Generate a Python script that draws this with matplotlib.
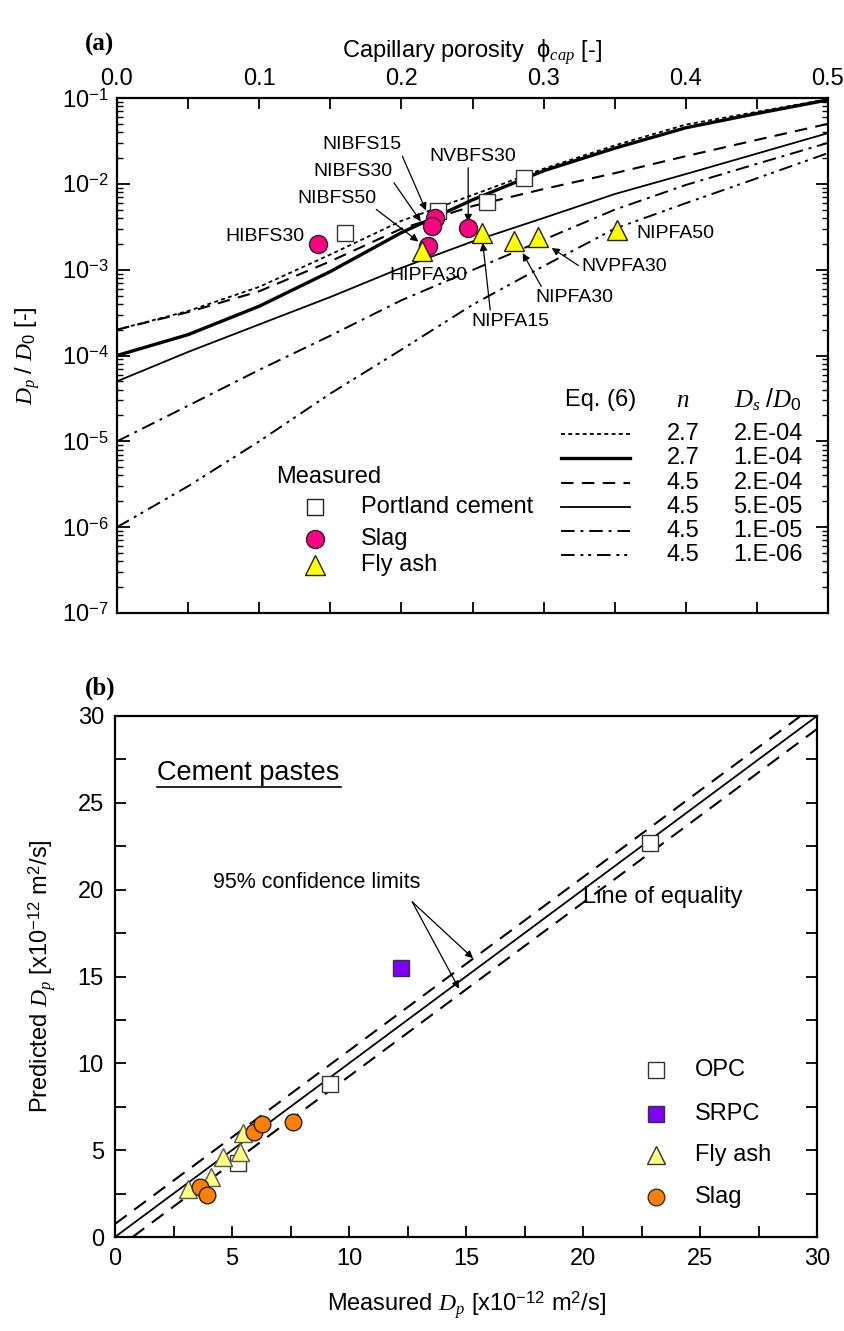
import matplotlib
matplotlib.use("Agg")
import matplotlib.pyplot as plt
import numpy as np
from matplotlib.lines import Line2D
from matplotlib.ticker import LogLocator, MultipleLocator, NullFormatter

plt.rcParams['font.family'] = ['Liberation Sans', 'DejaVu Sans']
plt.rcParams['mathtext.fontset'] = 'custom'
plt.rcParams['mathtext.rm'] = 'Liberation Sans'
plt.rcParams['mathtext.sf'] = 'Liberation Sans'
plt.rcParams['mathtext.it'] = 'Liberation Serif:italic'
plt.rcParams['mathtext.bf'] = 'Liberation Sans:bold'

# ---------------- data: panel (a) ----------------
phi_grid = [0.0, 0.05, 0.10, 0.15, 0.20, 0.25, 0.30, 0.35, 0.40, 0.45, 0.50]
eq6_n27_2e4 = [2.0e-4, 3.3e-4, 6.3e-4, 1.5e-3, 3.7e-3, 7.4e-3, 1.5e-2, 2.8e-2, 4.9e-2, 6.9e-2, 9.7e-2]
eq6_n27_1e4 = [1.0e-4, 1.75e-4, 3.75e-4, 9.5e-4, 2.7e-3, 6.5e-3, 1.42e-2, 2.6e-2, 4.5e-2, 6.6e-2, 9.5e-2]
eq6_n45_2e4 = [2.0e-4, 3.2e-4, 5.6e-4, 1.25e-3, 3.0e-3, 5.5e-3, 8.7e-3, 1.33e-2, 2.1e-2, 3.25e-2, 5.0e-2]
eq6_n45_5e5 = [5.0e-5, 1.1e-4, 2.3e-4, 4.8e-4, 1.05e-3, 2.13e-3, 4.0e-3, 7.6e-3, 1.3e-2, 2.25e-2, 3.9e-2]
eq6_n45_1e5 = [1.0e-5, 2.6e-5, 6.8e-5, 1.7e-4, 4.4e-4, 9.9e-4, 2.23e-3, 5.0e-3, 9.7e-3, 1.71e-2, 3.0e-2]
eq6_n45_1e6 = [1.0e-6, 3.0e-6, 1.0e-5, 3.6e-5, 1.17e-4, 3.9e-4, 1.1e-3, 3.0e-3, 5.95e-3, 1.16e-2, 2.28e-2]

eq6_n_labels = ['2.7', '2.7', '4.5', '4.5', '4.5', '4.5']
eq6_ds_labels = ['2.E-04', '1.E-04', '2.E-04', '5.E-05', '1.E-05', '1.E-06']

pc_phi = [0.1606, 0.226, 0.2604, 0.2862]
pc_D = [2.67e-3, 4.77e-3, 6.1e-3, 1.16e-2]

slag_names = ['HIBFS30', 'NIBFS15', 'NIBFS30', 'NIBFS50', 'NVBFS30']
slag_phi = [0.1411, 0.2236, 0.2213, 0.2190, 0.2470]
slag_D = [1.99e-3, 4.0e-3, 3.25e-3, 1.87e-3, 3.05e-3]

fa_names = ['HIPFA30', 'NIPFA15', 'NIPFA30', 'NVPFA30', 'NIPFA50']
fa_phi = [0.2143, 0.2565, 0.2790, 0.2960, 0.3514]
fa_D = [1.63e-3, 2.7e-3, 2.13e-3, 2.4e-3, 2.9e-3]

# ---------------- data: panel (b) ----------------
opc_meas = [22.87, 9.19, 5.27]
opc_pred = [22.66, 8.83, 4.24]
srpc_meas = [12.21]
srpc_pred = [15.5]
fa_meas = [3.13, 4.10, 4.60, 5.34, 5.48]
fa_pred = [2.74, 3.47, 4.58, 4.90, 5.96]
slag_meas = [3.63, 3.92, 5.94, 6.27, 7.62]
slag_pred = [2.86, 2.41, 6.05, 6.48, 6.63]
equality_x = [0, 30]
equality_y = [0, 30]
upper_x = [0, 29.3]
upper_y = [0.75, 30]
lower_x = [0.75, 30]
lower_y = [0, 29.25]

FS = 17
fig = plt.figure(figsize=(8.45, 13.31), dpi=100)

# ================= panel (a) =================
ax = fig.add_axes([117/845, 1-613/1331, 711/845, 515/1331])
styles = [
    dict(color='k', lw=1.3, dashes=(2.2, 1.8)),
    dict(color='k', lw=2.4, linestyle='-'),
    dict(color='k', lw=1.5, dashes=(6, 4)),
    dict(color='k', lw=1.3, linestyle='-'),
    dict(color='k', lw=1.4, dashes=(7, 3, 1.5, 3)),
    dict(color='k', lw=1.4, dashes=(7, 3, 1.5, 2.5, 1.5, 3)),
]
curves = [eq6_n27_2e4, eq6_n27_1e4, eq6_n45_2e4, eq6_n45_5e5, eq6_n45_1e5, eq6_n45_1e6]
for c, st in zip(curves, styles):
    ax.plot(phi_grid, c, **st)

ax.plot(pc_phi, pc_D, 's', ms=12, mfc='white', mec='#333333', mew=1.0, zorder=5)
ax.plot(slag_phi, slag_D, 'o', ms=13, mfc='#FF0080', mec='#222222', mew=1.0, zorder=6)
ax.plot(fa_phi, fa_D, '^', ms=14, mfc='#FFFF00', mec='#222222', mew=1.0, zorder=7)

ax.set_yscale('log')
ax.set_xlim(0, 0.5)
ax.set_ylim(1e-7, 1e-1)
ax.xaxis.set_minor_locator(MultipleLocator(0.05))
ax.set_xticks([0, 0.1, 0.2, 0.3, 0.4, 0.5])
ax.set_xticklabels(['0.0', '0.1', '0.2', '0.3', '0.4', '0.5'])
ax.yaxis.set_minor_locator(LogLocator(base=10, subs=np.arange(2, 10), numticks=20))
ax.yaxis.set_minor_formatter(NullFormatter())
ax.set_yticks([1e-7, 1e-6, 1e-5, 1e-4, 1e-3, 1e-2, 1e-1])
ax.set_yticklabels([r'$10^{-%d}$' % k for k in [7, 6, 5, 4, 3, 2, 1]])
ax.tick_params(axis='x', which='both', direction='in', top=True, bottom=True,
               labeltop=True, labelbottom=False, length=8, width=1.3, labelsize=FS, pad=6)
ax.tick_params(axis='y', which='major', direction='in', left=True, right=True,
               length=9, width=1.3, labelsize=FS, pad=6)
ax.tick_params(axis='y', which='minor', direction='in', left=True, right=True,
               length=4.5, width=1.0)
for s in ax.spines.values():
    s.set_linewidth(1.6)
ax.xaxis.set_label_position('top')
ax.set_xlabel(r'Capillary porosity  $\mathrm{\phi}_{cap}$ [-]', fontsize=FS, labelpad=7)
ax.set_ylabel(r'$D_p\ /\ D_0$ [-]', fontsize=FS, labelpad=14)

afs = 14
ap = dict(arrowstyle='-|>', color='k', lw=0.9, mutation_scale=11, shrinkA=0, shrinkB=0)
ax.text(0.132, 2.45e-3, 'HIBFS30', fontsize=afs, ha='right', va='center')
ax.annotate('NIBFS15', xy=(0.2173, 4.9e-3), xytext=(0.172, 2.84e-2), fontsize=afs,
            ha='center', va='center', arrowprops=dict(ap, relpos=(1.0, 0.0)))
ax.annotate('NIBFS30', xy=(0.2136, 3.65e-3), xytext=(0.1656, 1.39e-2), fontsize=afs,
            ha='center', va='center', arrowprops=dict(ap, relpos=(1.0, 0.0)))
ax.annotate('NIBFS50', xy=(0.2119, 2.13e-3), xytext=(0.1547, 6.82e-3), fontsize=afs,
            ha='center', va='center', arrowprops=dict(ap, relpos=(0.95, 0.0)))
ax.annotate('NVBFS30', xy=(0.247, 3.6e-3), xytext=(0.25, 2.08e-2), fontsize=afs,
            ha='center', va='center', arrowprops=dict(ap, relpos=(0.45, 0.0)))
ax.text(0.219, 8.5e-4, 'HIPFA30', fontsize=afs, ha='center', va='center')
ax.annotate('NIPFA15', xy=(0.2572, 2.05e-3), xytext=(0.2764, 2.5e-4), fontsize=afs,
            ha='center', va='center', arrowprops=dict(ap, relpos=(0.25, 1.0)))
ax.annotate('NIPFA30', xy=(0.2853, 1.56e-3), xytext=(0.3214, 4.7e-4), fontsize=afs,
            ha='center', va='center', arrowprops=dict(ap, relpos=(0.1, 1.0)))
ax.annotate('NVPFA30', xy=(0.3057, 1.79e-3), xytext=(0.3565, 1.09e-3), fontsize=afs,
            ha='center', va='center', arrowprops=dict(ap, relpos=(0.0, 0.45)))
ax.text(0.3655, 2.67e-3, 'NIPFA50', fontsize=afs, ha='left', va='center')

# legend: Eq. (6)
T = ax.transAxes
hy = 0.4136
rows_y = [0.3476, 0.301, 0.2524, 0.2058, 0.1592, 0.1126]
ax.text(0.630, hy, 'Eq. (6)', fontsize=FS, ha='left', va='center', transform=T)
ax.text(0.796, hy, r'$n$', fontsize=FS + 1, ha='center', va='center', transform=T)
ax.text(0.916, hy, r'$D_s\ /D_0$', fontsize=FS + 1, ha='center', va='center', transform=T)
for yv, st, nl, dl in zip(rows_y, styles, eq6_n_labels, eq6_ds_labels):
    ax.add_line(Line2D([0.625, 0.721], [yv, yv], transform=T, **st))
    ax.text(0.796, yv, nl, fontsize=FS, ha='center', va='center', transform=T)
    ax.text(0.916, yv, dl, fontsize=FS, ha='center', va='center', transform=T)

# legend: Measured
ax.text(0.224, 0.264, 'Measured', fontsize=FS, ha='left', va='center', transform=T)
meas = [('s', 'white', 12, 'Portland cement'), ('o', '#FF0080', 13, 'Slag'), ('^', '#FFFF00', 14, 'Fly ash')]
for yv, (mk, fc, ms, lab) in zip([0.2049, 0.1437, 0.0932], meas):
    ax.plot([0.2785], [yv], mk, ms=ms, mfc=fc, mec='#222222', mew=1.0, transform=T, clip_on=False)
    ax.text(0.3427, yv, lab, fontsize=FS, ha='left', va='center', transform=T)

fig.text(100/845, 1-44/1331, '(a)', fontsize=18, fontweight='bold',
         family='Liberation Serif', ha='center', va='center')

# ================= panel (b) =================
bx = fig.add_axes([115/845, 1-1237/1331, 702/845, 521/1331])
bx.plot(equality_x, equality_y, '-', color='k', lw=1.3)
bx.plot(upper_x, upper_y, color='k', lw=1.5, dashes=(7, 4.5))
bx.plot(lower_x, lower_y, color='k', lw=1.5, dashes=(7, 4.5))
bx.plot(opc_meas, opc_pred, 's', ms=11, mfc='white', mec='#333333', mew=1.0, zorder=5)
bx.plot(srpc_meas, srpc_pred, 's', ms=11, mfc='#8000FF', mec='#333333', mew=1.0, zorder=5)
bx.plot(fa_meas, fa_pred, '^', ms=13, mfc='#FFFF80', mec='#555555', mew=1.0, zorder=6)
bx.plot(slag_meas, slag_pred, 'o', ms=12, mfc='#FF8000', mec='#222222', mew=1.0, zorder=7)
bx.set_xlim(0, 30)
bx.set_ylim(0, 30)
bx.xaxis.set_major_locator(MultipleLocator(5))
bx.xaxis.set_minor_locator(MultipleLocator(2.5))
bx.yaxis.set_major_locator(MultipleLocator(5))
bx.yaxis.set_minor_locator(MultipleLocator(2.5))
bx.tick_params(axis='both', which='both', direction='in', length=8, width=1.3,
               labelsize=FS, top=False, right=True, pad=8)
for s in bx.spines.values():
    s.set_linewidth(1.6)
bx.set_xlabel(r'Measured $D_p$ [x10$^{-12}$ m$^2$/s]', fontsize=FS, labelpad=14)
bx.set_ylabel(r'Predicted $D_p$ [x10$^{-12}$ m$^2$/s]', fontsize=FS, labelpad=14)

bx.text(1.8, 26.7, 'Cement pastes', fontsize=19.5, ha='left', va='center')
bx.plot([1.8, 9.65], [25.9, 25.9], color='k', lw=1.2)
bx.text(8.6, 20.4, '95% confidence limits', fontsize=15.5, ha='center', va='center')
ap2 = dict(arrowstyle='-|>', color='k', lw=0.9, mutation_scale=11, shrinkA=0, shrinkB=0)
bx.annotate('', xy=(15.3, 16.05), xytext=(12.7, 19.3), arrowprops=ap2)
bx.annotate('', xy=(14.7, 14.3), xytext=(12.7, 19.3), arrowprops=ap2)
bx.text(20.0, 19.6, 'Line of equality', fontsize=FS, ha='left', va='center')

legb = [('s', 'white', 'OPC', 9.6), ('s', '#8000FF', 'SRPC', 7.1), ('^', '#FFFF80', 'Fly ash', 4.7), ('o', '#FF8000', 'Slag', 2.3)]
for mk, fc, lab, yv in legb:
    bx.plot([23.1], [yv], mk, ms=12 if mk != '^' else 13, mfc=fc, mec='#333333', mew=1.0)
    bx.text(24.8, yv, lab, fontsize=FS, ha='left', va='center')

fig.text(100/845, 1-688/1331, '(b)', fontsize=18, fontweight='bold',
         family='Liberation Serif', ha='center', va='center')

fig.savefig('out.png', dpi=100)
